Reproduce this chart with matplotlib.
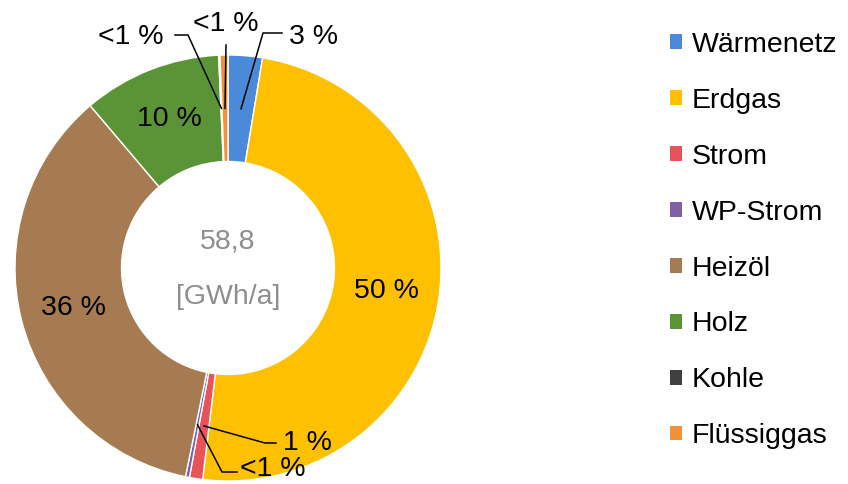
import numpy as np
import matplotlib
matplotlib.use('Agg')
import matplotlib.pyplot as plt
from matplotlib.patches import Patch

plt.rcParams['font.family'] = ['Liberation Sans', 'DejaVu Sans']

# energy carriers, shares in percent
carriers = ['Wärmenetz', 'Erdgas', 'Strom', 'WP-Strom', 'Heizöl', 'Holz', 'Kohle', 'Flüssiggas']
shares = [2.6, 49.3, 1.0, 0.3, 35.6, 10.5, 0.1, 0.6]
labels = ['3 %', '50 %', '1 %', '<1 %', '36 %', '10 %', '<1 %', '<1 %']
colors = ['#4A8AD8', '#FFC000', '#E8535A', '#7E5FA8', '#A67B52', '#5A9436', '#404040', '#F0903A']
total_text = ['58,8', '[GWh/a]']

W, H = 848, 484
cx, cy, R = 228, 268, 213   # pie centre and radius in pixels

fig = plt.figure(figsize=(W / 100, H / 100), dpi=100)
ax = fig.add_axes([0, 0, 1, 1])

wedges, _ = ax.pie(shares, colors=colors, startangle=90, counterclock=False,
                   radius=1, wedgeprops=dict(width=0.5, edgecolor='white', linewidth=1))

# pie() resets the limits, so set them afterwards
ax.set_xlim(-cx / R, (W - cx) / R)
ax.set_ylim(-(H - cy) / R, cy / R)
ax.set_aspect('equal')
ax.axis('off')

# mid angle of every wedge, at ring centre (r = 0.75)
cum = np.cumsum([0] + shares)
mid = (cum[:-1] + cum[1:]) / 2 / 100 * 360
px = 0.75 * np.sin(np.radians(mid))
py = 0.75 * np.cos(np.radians(mid))

fs = 20.5
# labels inside the big wedges
for i in [1, 4, 5]:
    ax.text(px[i], py[i], labels[i], ha='center', va='center', fontsize=fs, color='black')


def p2d(x, y):
    # pixel -> data
    return (x - cx) / R, (cy - y) / R


def leader(i, pts, text_xy, ha):
    xs = [px[i]] + [p2d(*p)[0] for p in pts]
    ys = [py[i]] + [p2d(*p)[1] for p in pts]
    ax.plot(xs, ys, color='black', lw=1.1)
    tx, ty = p2d(*text_xy)
    ax.text(tx, ty, labels[i], ha=ha, va='center', fontsize=fs, color='black')


# small wedges with leader lines
leader(0, [(263, 33), (282, 33)], (289, 37), 'left')
leader(6, [(188, 35), (175, 35)], (164, 37), 'right')
leader(7, [(226, 45)], (226, 24), 'center')
leader(2, [(265, 443), (276, 443)], (283, 443), 'left')
leader(3, [(222, 472), (237, 472)], (240, 469), 'left')

# total in the hole
ax.text(0, p2d(0, 242)[1], total_text[0], ha='center', va='center', fontsize=fs, color='#8E8E8E')
ax.text(0, p2d(0, 297)[1], total_text[1], ha='center', va='center', fontsize=fs, color='#8E8E8E')

handles = [Patch(facecolor=c, edgecolor='none') for c in colors]
fig.legend(handles, carriers, loc='upper left', bbox_to_anchor=(670 / W, 1 - 32 / H),
           frameon=False, fontsize=fs, handlelength=0.42, handleheight=0.42,
           handletextpad=0.35, labelspacing=1.05, borderpad=0, borderaxespad=0)

fig.savefig('out.png', dpi=100)
